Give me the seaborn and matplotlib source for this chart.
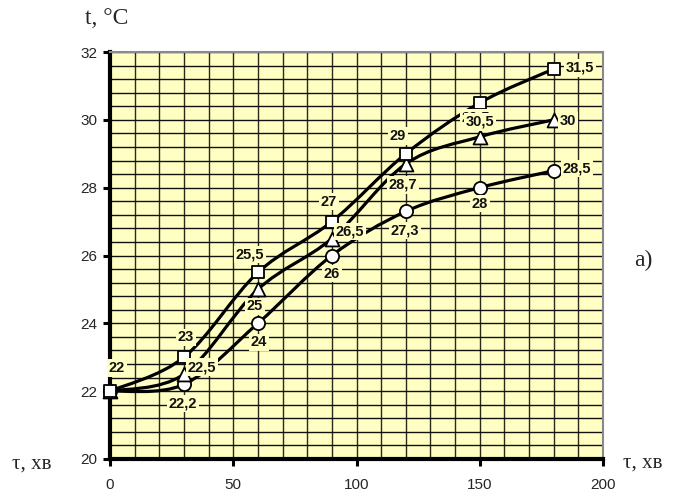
import numpy as np
import pandas as pd
import matplotlib
matplotlib.use("Agg")
import matplotlib.pyplot as plt
from matplotlib.path import Path
from matplotlib.patches import PathPatch
from matplotlib.ticker import MultipleLocator
import seaborn as sns

# Heating time, min
tau = [0, 30, 60, 90, 120, 150, 180]
# Temperature, °C, for the three runs
t_square = [22, 23, 25.5, 27, 29, 30.5, 31.5]
t_triangle = [22, 22.5, 25, 26.5, 28.7, 29.5, 30]
t_circle = [22, 22.2, 24, 26, 27.3, 28, 28.5]

x_ticks = [0, 50, 100, 150, 200]
y_ticks = [20, 22, 24, 26, 28, 30, 32]

FACE = "#FFFFC4"

sns.set_theme(style="white")
plt.rcParams["font.family"] = ["Liberation Sans", "DejaVu Sans"]

fig = plt.figure(figsize=(6.75, 4.95), dpi=100)
ax = fig.add_axes([110 / 675, 36 / 495, 493 / 675, 407 / 495])
ax.set_facecolor(FACE)
ax.set_xlim(0, 200)
ax.set_ylim(20, 32)

# grid: every 10 min and every 0.4 °C
ax.xaxis.set_major_locator(MultipleLocator(50))
ax.xaxis.set_minor_locator(MultipleLocator(10))
ax.yaxis.set_major_locator(MultipleLocator(2))
ax.yaxis.set_minor_locator(MultipleLocator(0.4))
ax.grid(True, which="both", axis="x", color="#2a2a1a", linewidth=1.0)
ax.grid(True, which="both", axis="y", color="#111111", linewidth=1.0)
ax.set_axisbelow(True)

ax.tick_params(axis="both", which="major", direction="out", length=5, width=2.2,
               color="black", labelsize=11, pad=4, bottom=True, left=True)
ax.tick_params(axis="both", which="minor", length=0)
ax.set_xticks(x_ticks)
ax.set_yticks(y_ticks)
ax.tick_params(axis="x", pad=9)

for side in ("left", "bottom"):
    ax.spines[side].set_color("black")
    ax.spines[side].set_linewidth(3)
for side in ("top", "right"):
    ax.spines[side].set_color("#8a8a8a")
    ax.spines[side].set_linewidth(1.5)


def smooth_path(xs, ys):
    """Cubic Bezier through the points (Catmull-Rom style control points)."""
    pts = np.column_stack([xs, ys]).astype(float)
    n = len(pts)
    verts = [pts[0]]
    codes = [Path.MOVETO]
    for i in range(n - 1):
        p_prev = pts[i - 1] if i > 0 else pts[i]
        p_next2 = pts[i + 2] if i + 2 < n else pts[i + 1]
        c1 = pts[i] + (pts[i + 1] - p_prev) / 6.0
        c2 = pts[i + 1] - (p_next2 - pts[i]) / 6.0
        verts += [c1, c2, pts[i + 1]]
        codes += [Path.CURVE4] * 3
    return Path(verts, codes)


series = [
    ("circle", t_circle, "o", 90),
    ("triangle", t_triangle, "^", 100),
    ("square", t_square, "s", 85),
]

for k, (name, vals, mk, size) in enumerate(series):
    patch = PathPatch(smooth_path(tau, vals), facecolor="none", edgecolor="black",
                      linewidth=2.3, zorder=3 + k * 0.1, capstyle="round")
    ax.add_patch(patch)

df = pd.concat([
    pd.DataFrame({"tau": tau, "t": vals, "run": name}) for name, vals, _, _ in series
], ignore_index=True)
for k, (name, vals, mk, size) in enumerate(series):
    sns.scatterplot(data=df[df["run"] == name], x="tau", y="t", marker=mk,
                    s=size, color="white", edgecolor="black", linewidth=1.3,
                    ax=ax, zorder=5 + k * 0.1, clip_on=False, legend=False)

# value labels: offsets in pixels from each point (None = no label)
off_triangle = [None, (18, 7), (-3, -17), (18, 7), (-3, -21), (-4, 19), (14, -1)]
off_circle = [None, (-1, -19), (1, -19), (0, -18), (-1, -19), (0, -16), (23, 2)]
off_square = [(7, 23), (2, 20), (-8, 18), (-3, 20), (-8, 18), (0, -19), (26, 1)]


def fmt(v):
    return f"{v:g}".replace(".", ",")


z = 8
for vals, offs in ((t_circle, off_circle), (t_triangle, off_triangle), (t_square, off_square)):
    for xv, yv, off in zip(tau, vals, offs):
        if off is None:
            continue
        ax.annotate(fmt(yv), (xv, yv), xytext=off, textcoords="offset pixels",
                    ha="center", va="center", fontsize=10.5, fontweight="bold",
                    color="#111111", zorder=z, annotation_clip=False,
                    bbox=dict(boxstyle="square,pad=0.12", facecolor=FACE, edgecolor="none"))
        z += 0.01

ax.set_xlabel("")
ax.set_ylabel("")

serif = ["Liberation Serif", "DejaVu Serif"]
fig.text(107 / 675, 1 - 19 / 495, "t, °C", family=serif, fontsize=17,
         ha="center", va="center")
fig.text(32 / 675, 1 - 464 / 495, "τ, хв", family=serif, fontsize=15,
         ha="center", va="center")
fig.text(643 / 675, 1 - 463 / 495, "τ, хв", family=serif, fontsize=15,
         ha="center", va="center")
fig.text(643 / 675, 1 - 260 / 495, "а)", family=serif, fontsize=17,
         ha="center", va="center")

fig.savefig("out.png", dpi=100, facecolor="white")
